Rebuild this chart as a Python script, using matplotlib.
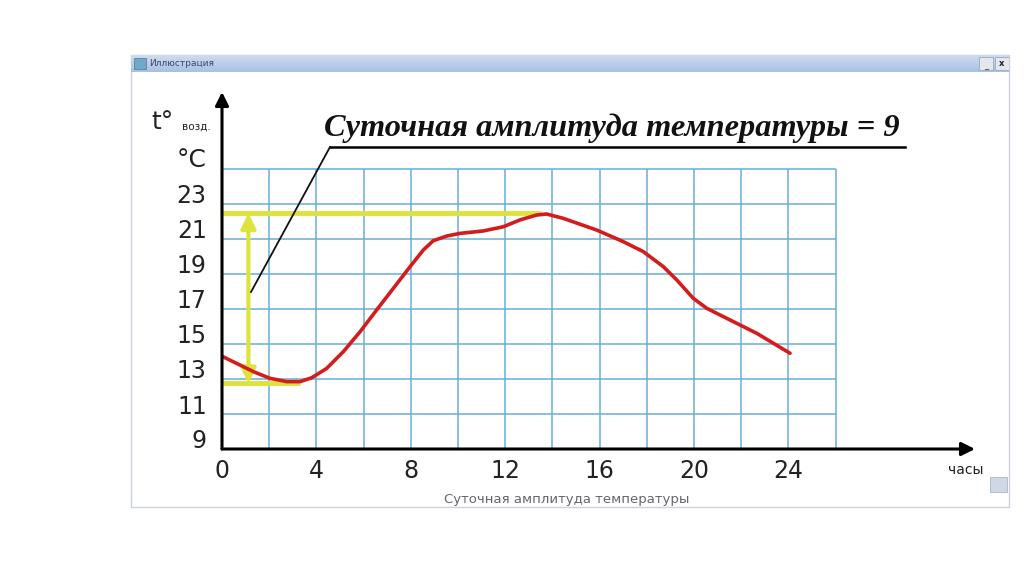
import numpy as np
import matplotlib
matplotlib.use("Agg")
import matplotlib.pyplot as plt
from matplotlib.patches import Rectangle
from matplotlib.transforms import ScaledTranslation
from matplotlib.colors import LinearSegmentedColormap

# ---- data ----
hours = [0.0, 0.76, 1.33, 2.03, 2.74, 3.31, 3.8, 4.43, 5.14, 5.85, 6.55, 7.26, 7.97,
         8.53, 8.95, 9.52, 10.08, 11.07, 11.92, 12.63, 13.33, 13.75, 14.46, 15.88,
         17.0, 17.85, 18.7, 19.27, 19.97, 20.54, 21.53, 22.66, 24.07]
temps = [14.3, 13.8, 13.42, 13.04, 12.85, 12.85, 13.07, 13.6, 14.56, 15.7, 16.94, 18.18, 19.42,
         20.37, 20.9, 21.17, 21.32, 21.46, 21.7, 22.09, 22.37, 22.43, 22.18, 21.51,
         20.85, 20.28, 19.42, 18.66, 17.61, 17.04, 16.37, 15.61, 14.47]
x_ticks = [0, 4, 8, 12, 16, 20, 24]
y_ticks = [9, 11, 13, 15, 17, 19, 21, 23]
t_max, t_max_hour = 22.47, 13.5
t_min, t_min_hour = 12.75, 3.3
arrow_hour = 1.12
grid_x = list(range(0, 27, 2))
grid_y = list(range(9, 26, 2))
annotation = "Суточная амплитуда температуры = 9"
caption = "Суточная амплитуда температуры"
window_title = "Иллюстрация"

W, H = 1024, 576
fig = plt.figure(figsize=(W / 100, H / 100), dpi=100)
fig.patch.set_facecolor("white")

def fx(x):
    return x / W

def fy(y):
    return 1 - y / H

# ---- window frame ----
fig.patches.append(Rectangle((fx(131), fy(507)), fx(1009) - fx(131), fy(55) - fy(507),
                             transform=fig.transFigure, facecolor="white",
                             edgecolor="#c9d2dc", lw=1.0, zorder=-5))
tb = fig.add_axes([fx(131), fy(72), fx(1009) - fx(131), fy(55) - fy(72)])
tb.set_zorder(2)
cmap = LinearSegmentedColormap.from_list("tb", ["#cddcf0", "#a9c1e4"])
tb.imshow(np.linspace(0, 1, 20).reshape(-1, 1), aspect="auto", cmap=cmap,
          extent=[0, 1, 0, 1], origin="upper")
tb.set_xlim(0, 1)
tb.set_ylim(0, 1)
tb.axis("off")
tb.add_patch(Rectangle((0.003, 0.15), 0.014, 0.7, facecolor="#6fa8c8", edgecolor="#4a7a9a", lw=0.5))
tb.add_patch(Rectangle((0.966, 0.1), 0.016, 0.8, facecolor="#e4e8ee", edgecolor="#9aa8b8", lw=0.6))
tb.add_patch(Rectangle((0.984, 0.1), 0.016, 0.8, facecolor="#e4e8ee", edgecolor="#9aa8b8", lw=0.6))
tb.text(0.974, 0.35, "_", ha="center", va="center", fontsize=6, color="#333333")
tb.text(0.992, 0.5, "x", ha="center", va="center", fontsize=6, color="#222222", fontweight="bold")
tb.text(0.021, 0.5, window_title, ha="left", va="center", fontsize=6.5,
        color="#3a4a66")

# ---- main chart axes ----
px_per_h = 23.6
px_per_deg = 17.5
left, right, bottom, top = 222, 975, 449, 92
ax = fig.add_axes([fx(left), fy(bottom), fx(right) - fx(left), fy(top) - fy(bottom)])
ax.set_zorder(3)
ax.set_facecolor("none")
ax.set_xlim(0, (right - left) / px_per_h)
ax.set_ylim(9, 9 + (bottom - top) / px_per_deg)
for s in ax.spines.values():
    s.set_visible(False)

grid_color = "#6aaed6"
ax.vlines(grid_x[1:], grid_y[0], grid_y[-1], colors=grid_color, lw=1.1, zorder=1)
ax.hlines(grid_y[1:], grid_x[0], grid_x[-1], colors=grid_color, lw=1.1, zorder=1)

# axes with arrows
ax.annotate("", xy=(ax.get_xlim()[1], 9), xytext=(0, 9),
            arrowprops=dict(arrowstyle="-|>", color="black", lw=2.2, mutation_scale=20,
                            shrinkA=0, shrinkB=0), annotation_clip=False, zorder=5)
ax.annotate("", xy=(0, ax.get_ylim()[1]), xytext=(0, 9),
            arrowprops=dict(arrowstyle="-|>", color="black", lw=2.2, mutation_scale=20,
                            shrinkA=0, shrinkB=0), annotation_clip=False, zorder=5)

# yellow amplitude markers
yellow = "#dde33a"
ax.hlines([t_max], 0, t_max_hour, colors=yellow, lw=3.5, zorder=3)
ax.hlines([t_min], 0, t_min_hour, colors=yellow, lw=3.5, zorder=3)
ax.annotate("", xy=(arrow_hour, t_max), xytext=(arrow_hour, t_min),
            arrowprops=dict(arrowstyle="<|-|>", color=yellow, lw=3, mutation_scale=22,
                            shrinkA=0, shrinkB=0), zorder=3)

# temperature curve
ax.plot(hours, temps, color="#d41c1c", lw=2.6, solid_capstyle="round",
        solid_joinstyle="round", zorder=4)

# ticks
tick_font = dict(family="DejaVu Sans", size=17)
ax.set_xticks(x_ticks)
ax.set_xticklabels([str(v) for v in x_ticks], fontdict=tick_font, color="#222222")
ax.set_yticks(y_ticks)
ax.set_yticklabels([str(v) for v in y_ticks], fontdict=tick_font, color="#222222")
ax.tick_params(axis="both", length=0)
ax.tick_params(axis="x", pad=7)
ax.tick_params(axis="y", pad=11)
shift = ScaledTranslation(0, 0.10, fig.dpi_scale_trans)
for lab in ax.get_yticklabels():
    lab.set_transform(lab.get_transform() + shift)

# annotation with leader line
fig.text(fx(612), fy(128), annotation, ha="center", va="center", fontsize=23.3,
         family="Liberation Serif", style="italic", fontweight="bold", color="#111111")
fig.add_artist(plt.Line2D([fx(330), fx(905)], [fy(147), fy(147)], color="black", lw=1.8))
fig.add_artist(plt.Line2D([fx(330), fx(251)], [fy(147), fy(292)], color="#111111", lw=1.3,
                          zorder=4))

# axis labels
fig.text(fx(162), fy(122), "t°", ha="center", va="center", fontsize=18, family="DejaVu Sans",
         color="#222222")
fig.text(fx(196), fy(127), "возд.", ha="center", va="center", fontsize=7.5,
         family="DejaVu Sans", color="#222222")
fig.text(fx(192), fy(160), "°C", ha="center", va="center", fontsize=18, family="DejaVu Sans",
         color="#222222")
fig.text(fx(966), fy(470), "часы", ha="center", va="center", fontsize=10,
         family="DejaVu Sans", color="#222222")
fig.text(fx(567), fy(499), caption, ha="center", va="center", fontsize=9.5,
         family="DejaVu Sans", color="#666666")
fig.patches.append(Rectangle((fx(990), fy(492)), fx(1007) - fx(990), fy(477) - fy(492),
                             transform=fig.transFigure, facecolor="#cfd9e6",
                             edgecolor="#a8b6c6", lw=0.6, zorder=1))

fig.savefig("out.png", dpi=100, facecolor="white")
